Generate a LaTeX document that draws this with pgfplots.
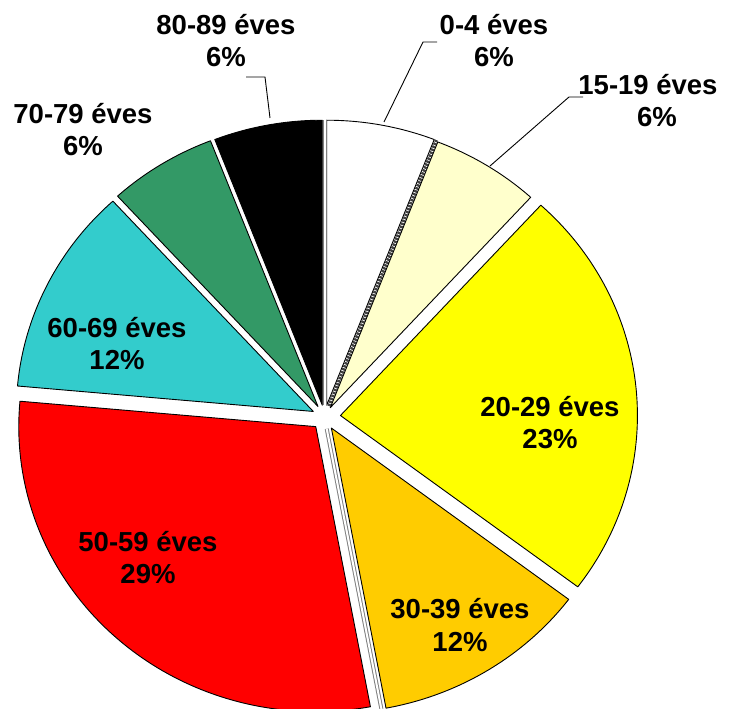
\documentclass[border=0pt]{standalone}
\usepackage{pgfplots}
\pgfplotsset{compat=1.18}
\usepackage{pgfplotstable}
\usepackage{fontspec}
\setmainfont{Liberation Sans}
\definecolor{cA}{HTML}{FFFFFF}
\definecolor{cB}{HTML}{FFFFCC}
\definecolor{cC}{HTML}{FFFF00}
\definecolor{cD}{HTML}{FFCC00}
\definecolor{cE}{HTML}{FF0000}
\definecolor{cF}{HTML}{33CCCC}
\definecolor{cG}{HTML}{339966}
\definecolor{cH}{HTML}{000000}
\definecolor{cZ}{HTML}{808080}

% label, value (percent), fill colour, explode (px), kind (0 slice, 1 dashed zero, 2 double zero)
\pgfplotstableread[col sep=comma]{
label,val,fill,explode,kind
0-4,5.9,cA,12,0
5-9,0,cZ,12,1
10-14,0,cZ,12,1
15-19,5.9,cB,11,0
20-29,23.5,cC,16,0
30-39,11.8,cD,13,0
40-49,0,cZ,12,2
50-59,29.4,cE,13,0
60-69,11.8,cF,12.5,0
70-79,5.9,cG,12.4,0
80-89,5.9,cH,12,0
90-,0,cZ,12,2
}\piedata

\def\cx{324.5}
\def\cy{417}
\def\Rx{297}
\def\Ry{285}

\begin{document}
\begin{tikzpicture}[lbl/.style={anchor=base, inner sep=0pt, font=\fontsize{27.5bp}{32bp}\selectfont\bfseries}]
\def\total{0}
\pgfplotstableforeachcolumnelement{val}\of\piedata\as\v{\pgfmathsetmacro\tmp{\total+\v}\xdef\total{\tmp}}
\pgfplotstablegetrowsof{\piedata}\pgfmathtruncatemacro\lastrow{\pgfplotsretval-1}
\begin{axis}[
  width=730bp, height=708bp, scale only axis,
  xmin=0, xmax=730, ymin=-708, ymax=0,
  hide axis, clip=true,
]
\xdef\cum{0}
\pgfplotsforeachungrouped \i in {0,...,\lastrow}{%
  \pgfplotstablegetelem{\i}{val}\of\piedata \let\v\pgfplotsretval
  \pgfplotstablegetelem{\i}{fill}\of\piedata \let\f\pgfplotsretval
  \pgfplotstablegetelem{\i}{explode}\of\piedata \let\e\pgfplotsretval
  \pgfplotstablegetelem{\i}{kind}\of\piedata \let\k\pgfplotsretval
  \pgfmathsetmacro\a{\cum/\total*360}%
  \pgfmathsetmacro\cumn{\cum+\v}\xdef\cum{\cumn}%
  \pgfmathsetmacro\b{\cum/\total*360}%
  \pgfmathsetmacro\m{(\a+\b)/2}%
  \pgfmathsetmacro\ox{\cx+\e*sin(\m)}%
  \pgfmathsetmacro\oy{-\cy+\e*cos(\m)}%
  \pgfmathsetmacro\xe{\ox+\Rx*sin(\a)}%
  \pgfmathsetmacro\ye{\oy+\Ry*cos(\a)}%
  \ifnum\k=0
    \edef\cmd{\noexpand\addplot[fill=\f, draw=black, line width=0.9bp, line join=round, domain=\a:\b, samples=90] ({\ox+\Rx*sin(x)},{\oy+\Ry*cos(x)}) -- (axis cs:\ox,\oy) -- cycle;}%
  \else\ifnum\k=1
    \edef\cmd{\noexpand\addplot[draw=black!75, line width=3bp, dash pattern=on 2bp off 1.2bp] coordinates {(\ox,\oy) (\xe,\ye)};}%
  \else
    \edef\cmd{\noexpand\addplot[draw=cZ, line width=1bp, double=white, double distance=2bp] coordinates {(\ox,\oy) (\xe,\ye)};}%
  \fi\fi
  \cmd
}
% leader lines
\draw[line width=0.9bp] (axis cs:246,-77) -- (axis cs:265,-77) -- (axis cs:270,-118);
\draw[line width=0.9bp] (axis cs:437,-42) -- (axis cs:423,-42) -- (axis cs:384,-122);
\draw[line width=0.9bp] (axis cs:583,-97) -- (axis cs:569,-97) -- (axis cs:490,-166);
% labels
\node[lbl] at (axis cs:226,-35) {80-89 éves};
\node[lbl] at (axis cs:226,-67) {6\%};
\node[lbl] at (axis cs:494,-35) {0-4 éves};
\node[lbl] at (axis cs:494,-67) {6\%};
\node[lbl] at (axis cs:648,-95) {15-19 éves};
\node[lbl] at (axis cs:657,-127) {6\%};
\node[lbl] at (axis cs:83,-124) {70-79 éves};
\node[lbl] at (axis cs:83,-156) {6\%};
\node[lbl] at (axis cs:117,-338) {60-69 éves};
\node[lbl] at (axis cs:117,-370) {12\%};
\node[lbl] at (axis cs:550,-416) {20-29 éves};
\node[lbl] at (axis cs:550,-448) {23\%};
\node[lbl] at (axis cs:460,-618) {30-39 éves};
\node[lbl] at (axis cs:460,-651) {12\%};
\node[lbl] at (axis cs:148,-551) {50-59 éves};
\node[lbl] at (axis cs:148,-583) {29\%};
\end{axis}
\pgfresetboundingbox
\path (current axis.south west) rectangle (current axis.north east);
\end{tikzpicture}
\end{document}
